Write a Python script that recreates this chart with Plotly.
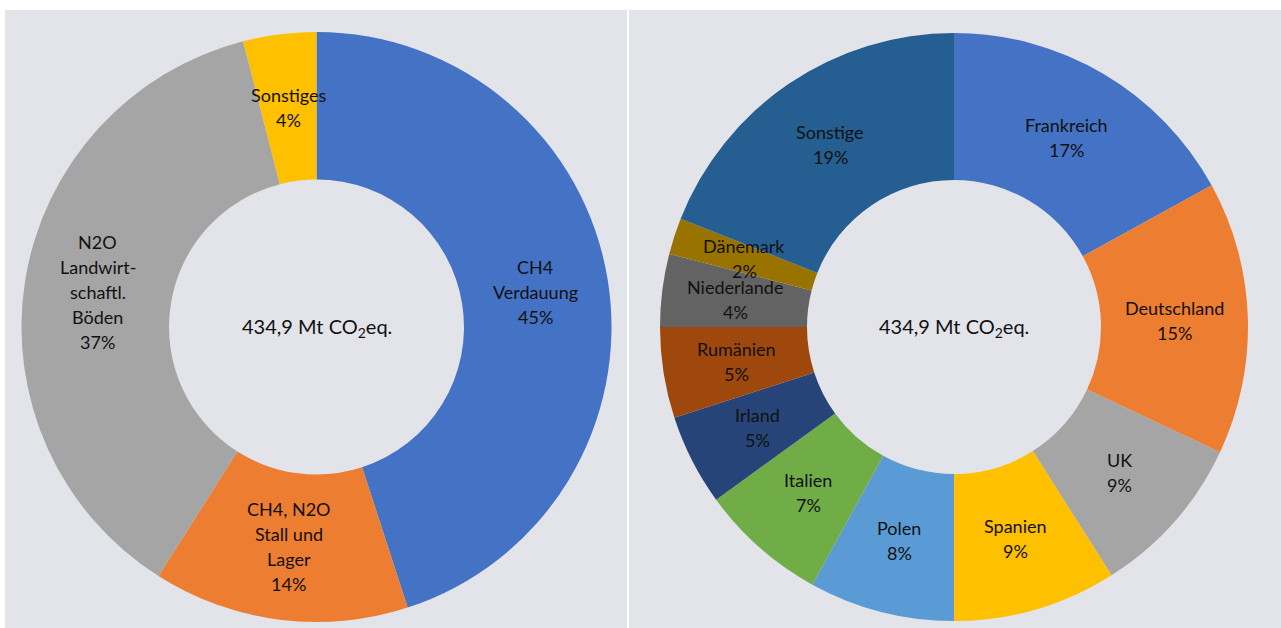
import math
import plotly.graph_objects as go

W, H = 1281, 628

# Left donut: emissions by source
src_labels = ["CH4<br>Verdauung", "CH4, N2O<br>Stall und<br>Lager",
              "N2O<br>Landwirt-<br>schaftl.<br>Böden", "Sonstiges"]
src_values = [45, 14, 37, 4]
src_colors = ["#4472C4", "#ED7D31", "#A5A5A5", "#FFC000"]

# Right donut: emissions by country
cty_labels = ["Frankreich", "Deutschland", "UK", "Spanien", "Polen", "Italien",
              "Irland", "Rumänien", "Niederlande", "Dänemark", "Sonstige"]
cty_values = [17, 15, 9, 9, 8, 7, 5, 5, 4, 2, 19]
cty_colors = ["#4472C4", "#ED7D31", "#A5A5A5", "#FFC000", "#5B9BD5", "#70AD47",
              "#264478", "#9E480E", "#636363", "#997300", "#255E91"]

center_text = "434,9 Mt CO<sub>2</sub>eq."

FONT = "Lato"
BG = "#E3E4E9"
HOLE = 0.5
LINE_H = 25

# pixel geometry of the two donuts (center x, center y from top, outer radius)
pies = [
    dict(cx=316.5, cy=327, r=295, labels=src_labels, values=src_values, colors=src_colors),
    dict(cx=954, cy=327, r=294, labels=cty_labels, values=cty_values, colors=cty_colors),
]

fig = go.Figure()
annotations = []

for p in pies:
    cx, cy, r = p["cx"], p["cy"], p["r"]
    fig.add_trace(go.Pie(
        labels=[l.replace("<br>", " ") for l in p["labels"]],
        values=p["values"],
        marker=dict(colors=p["colors"], line=dict(width=0)),
        hole=HOLE,
        sort=False,
        direction="clockwise",
        rotation=0,
        textinfo="none",
        hoverinfo="label+percent",
        showlegend=False,
        domain=dict(x=[(cx - r) / W, (cx + r) / W],
                    y=[(H - cy - r) / H, (H - cy + r) / H]),
    ))

    total = sum(p["values"])
    rmid = r * (1 + HOLE) / 2
    cum = 0
    for lab, val in zip(p["labels"], p["values"]):
        mid = (cum + val / 2) / total * 2 * math.pi
        cum += val
        px = cx + rmid * math.sin(mid)
        py = cy - rmid * math.cos(mid)
        lines = lab.split("<br>") + [f"{round(val / total * 100)}%"]
        n = len(lines)
        for i, line in enumerate(lines):
            ly = py + (i - (n - 1) / 2) * LINE_H
            annotations.append(dict(
                x=px / W, y=1 - ly / H, xref="paper", yref="paper",
                text=line, showarrow=False, xanchor="center", yanchor="middle",
                font=dict(family=FONT, size=18, color="#111111"),
            ))

    annotations.append(dict(
        x=cx / W, y=1 - cy / H, xref="paper", yref="paper",
        text=center_text, showarrow=False, xanchor="center", yanchor="middle",
        font=dict(family=FONT, size=20, color="#111111"),
    ))

shapes = [
    dict(type="rect", xref="paper", yref="paper", layer="below",
         x0=5 / W, x1=627 / W, y0=0, y1=1 - 10 / H,
         fillcolor=BG, line=dict(width=0)),
    dict(type="rect", xref="paper", yref="paper", layer="below",
         x0=629 / W, x1=1, y0=0, y1=1 - 10 / H,
         fillcolor=BG, line=dict(width=0)),
]

fig.update_layout(
    width=W, height=H,
    margin=dict(l=0, r=0, t=0, b=0),
    paper_bgcolor="white",
    plot_bgcolor="white",
    annotations=annotations,
    shapes=shapes,
    font=dict(family=FONT),
)

fig.write_html("out.html", config={"displayModeBar": False})
